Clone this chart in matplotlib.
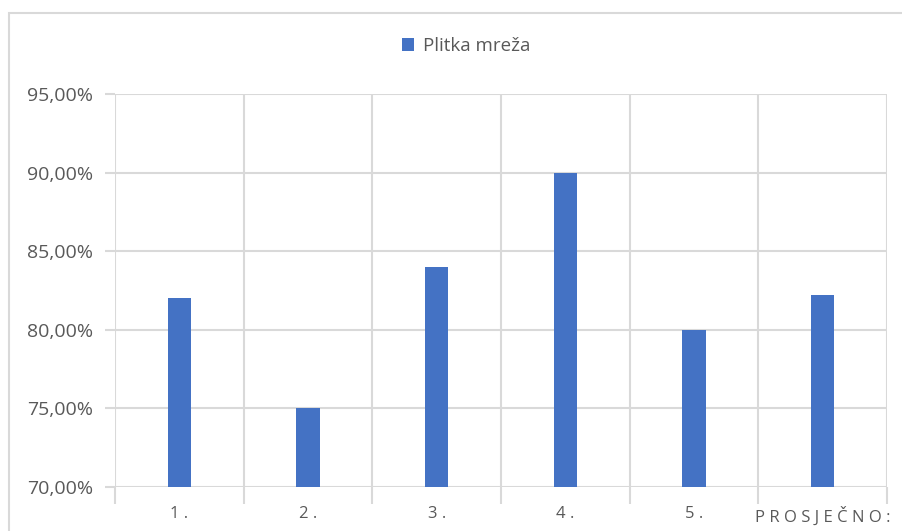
import matplotlib
matplotlib.use("Agg")
import matplotlib.pyplot as plt
from matplotlib.patches import Rectangle
from matplotlib.ticker import FuncFormatter, MultipleLocator

categories = ["1.", "2.", "3.", "4.", "5.", "PROSJEČNO:"]
values = [82.0, 75.0, 84.0, 90.0, 80.0, 82.2]
series_name = "Plitka mreža"

BAR_COLOR = "#4472C4"
GRID_COLOR = "#D9D9D9"
TEXT_COLOR = "#595959"

plt.rcParams['font.family'] = ['Open Sans', 'DejaVu Sans']

W, H = 903, 531
fig = plt.figure(figsize=(W / 100, H / 100), dpi=100)

# chart frame (top and left edges visible)
fig.patches.append(Rectangle((8.5 / W, -0.1), 2, 1 - 12.5 / H + 0.1,
                             transform=fig.transFigure, fill=False,
                             edgecolor=GRID_COLOR, linewidth=1.5))

left, right, top, bottom = 115, 887, 94, 487
ax = fig.add_axes([left / W, 1 - bottom / H, (right - left) / W, (bottom - top) / H])

x = list(range(len(categories)))
ax.bar(x, values, width=0.18, color=BAR_COLOR, label=series_name, zorder=3)

ax.set_xlim(-0.5, len(categories) - 0.5)
ax.set_ylim(70, 95)
ax.yaxis.set_major_locator(MultipleLocator(5))
ax.yaxis.set_major_formatter(FuncFormatter(lambda v, p: f"{v:.2f}".replace(".", ",") + "%"))

# category boundary gridlines
ax.set_xticks([i - 0.5 for i in range(len(categories) + 1)])
ax.set_xticklabels([])
ax.set_xticks(x, minor=True)
ax.set_xticklabels([" ".join(c) for c in categories], minor=True)
ax.tick_params(axis="x", which="major", length=12, color=GRID_COLOR, width=1.5)
ax.tick_params(axis="x", which="minor", length=0, pad=14, labelsize=12,
               labelcolor=TEXT_COLOR)
ax.tick_params(axis="y", length=7, color=GRID_COLOR, width=1.5, pad=9,
               labelsize=14, labelcolor=TEXT_COLOR)

ax.grid(True, which="major", color=GRID_COLOR, linewidth=1.5, zorder=0)
for s in ax.spines.values():
    s.set_visible(False)
ax.set_axisbelow(True)

leg = fig.legend(loc="center", bbox_to_anchor=(466 / W, 1 - 46 / H), frameon=False,
                 fontsize=13.5, handlelength=0.65, handleheight=0.65, handletextpad=0.5)
for t in leg.get_texts():
    t.set_color(TEXT_COLOR)

fig.savefig("out.png", dpi=100)
